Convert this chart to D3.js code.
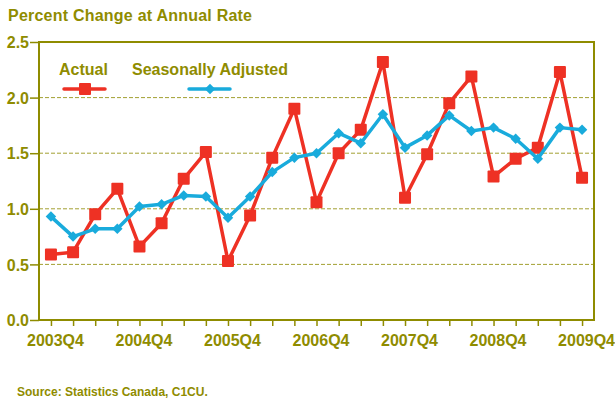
<!DOCTYPE html>
<html>
<head>
<meta charset="utf-8">
<style>
  body { margin: 0; background: #fff; }
  svg { display: block; font-family: "Liberation Sans", Arial, sans-serif; font-weight: bold; }
</style>
</head>
<body>
<svg width="615" height="400"></svg>
<script src="https://cdnjs.cloudflare.com/ajax/libs/d3/7.8.5/d3.min.js"></script>
<script>
// quarters shown on the x axis
var quarters = ["2003Q4","2004Q1","2004Q2","2004Q3","2004Q4","2005Q1","2005Q2","2005Q3","2005Q4",
                "2006Q1","2006Q2","2006Q3","2006Q4","2007Q1","2007Q2","2007Q3","2007Q4",
                "2008Q1","2008Q2","2008Q3","2008Q4","2009Q1","2009Q2","2009Q3","2009Q4"];
var actual = [0.59, 0.61, 0.95, 1.18, 0.66, 0.87, 1.27, 1.51, 0.53, 0.94, 1.46, 1.90, 1.06,
              1.50, 1.71, 2.32, 1.10, 1.49, 1.95, 2.19, 1.29, 1.45, 1.55, 2.23, 1.28];
var seasAdj = [0.93, 0.75, 0.82, 0.82, 1.02, 1.04, 1.12, 1.11, 0.92, 1.11, 1.33, 1.46, 1.50,
               1.68, 1.59, 1.85, 1.55, 1.66, 1.84, 1.70, 1.73, 1.63, 1.45, 1.73, 1.71];
var yTicks = [0, 0.5, 1.0, 1.5, 2.0, 2.5];
var xLabels = ["2003Q4","2004Q4","2005Q4","2006Q4","2007Q4","2008Q4","2009Q4"];

var olive = "#8f8c00",
    red = "#ee3124",
    blue = "#19abdc";

var svg = d3.select("svg");
var pLeft = 39, pRight = 594, pTop = 42, pBottom = 320;

var x = d3.scalePoint().domain(quarters).range([pLeft, pRight]).padding(0.54);
var y = d3.scaleLinear().domain([0, 2.5]).range([pBottom, pTop]);

// title
svg.append("text")
    .attr("x", 8).attr("y", 21)
    .attr("fill", olive)
    .style("font-size", "16px")
    .attr("textLength", 244)
    .text("Percent Change at Annual Rate");

// grid
svg.append("g").selectAll("line")
    .data(yTicks.filter(function(d) { return d > 0 && d < 2.5; }))
    .enter().append("line")
    .attr("x1", pLeft).attr("x2", pRight)
    .attr("y1", function(d) { return y(d); })
    .attr("y2", function(d) { return y(d); })
    .attr("stroke", "#a3a032")
    .attr("stroke-width", 1)
    .attr("stroke-dasharray", "4,2");

// frame
svg.append("rect")
    .attr("x", pLeft).attr("y", pTop)
    .attr("width", pRight - pLeft).attr("height", pBottom - pTop)
    .attr("fill", "none")
    .attr("stroke", olive)
    .attr("stroke-width", 2);

// y axis
var yAxis = svg.append("g")
    .attr("transform", "translate(" + pLeft + ",0)")
    .call(d3.axisLeft(y).tickValues(yTicks).tickSize(9).tickFormat(d3.format(".1f")));
yAxis.select(".domain").remove();
yAxis.selectAll("line").attr("stroke", olive).attr("stroke-width", 1.5);
yAxis.selectAll("text")
    .attr("fill", olive)
    .attr("x", -10)
    .attr("dy", "0.36em")
    .style("font-size", "16px")
    .style("font-family", "'Liberation Sans', Arial, sans-serif")
    .style("font-weight", "bold");

// x axis
var xAxis = svg.append("g")
    .attr("transform", "translate(0," + pBottom + ")")
    .call(d3.axisBottom(x).tickSize(6).tickFormat(function(d) { return xLabels.indexOf(d) >= 0 ? d : ""; }));
xAxis.select(".domain").remove();
xAxis.selectAll("line").attr("stroke", olive).attr("stroke-width", 1.5);
xAxis.selectAll("text")
    .attr("fill", olive)
    .attr("y", 15)
    .attr("dx", 4)
    .style("font-size", "16px")
    .style("font-family", "'Liberation Sans', Arial, sans-serif")
    .style("font-weight", "bold");

// lines
var line = d3.line()
    .x(function(d, i) { return x(quarters[i]); })
    .y(function(d) { return y(d); });

svg.append("path")
    .datum(actual)
    .attr("d", line)
    .attr("fill", "none")
    .attr("stroke", red)
    .attr("stroke-width", 3.5)
    .attr("stroke-linejoin", "round");

svg.append("g").selectAll("rect")
    .data(actual)
    .enter().append("rect")
    .attr("x", function(d, i) { return x(quarters[i]) - 6; })
    .attr("y", function(d) { return y(d) - 6; })
    .attr("width", 12).attr("height", 12)
    .attr("rx", 1)
    .attr("fill", red);

svg.append("path")
    .datum(seasAdj)
    .attr("d", line)
    .attr("fill", "none")
    .attr("stroke", blue)
    .attr("stroke-width", 3.5)
    .attr("stroke-linejoin", "round");

var diamond = d3.symbol().type(d3.symbolDiamond2).size(70);
svg.append("g").selectAll("path")
    .data(seasAdj)
    .enter().append("path")
    .attr("d", diamond)
    .attr("transform", function(d, i) { return "translate(" + x(quarters[i]) + "," + y(d) + ")"; })
    .attr("fill", blue);

// legend
svg.append("text").attr("x", 59).attr("y", 75)
    .attr("fill", olive).style("font-size", "16px").text("Actual");
svg.append("text").attr("x", 132).attr("y", 75)
    .attr("fill", olive).style("font-size", "16px").text("Seasonally Adjusted");

svg.append("line").attr("x1", 64).attr("x2", 105).attr("y1", 89).attr("y2", 89)
    .attr("stroke", red).attr("stroke-width", 3.5).attr("stroke-linecap", "round");
svg.append("rect").attr("x", 79).attr("y", 83).attr("width", 12).attr("height", 12)
    .attr("rx", 1).attr("fill", red);
svg.append("line").attr("x1", 189).attr("x2", 230).attr("y1", 89).attr("y2", 89)
    .attr("stroke", blue).attr("stroke-width", 3.5).attr("stroke-linecap", "round");
svg.append("path").attr("d", diamond).attr("transform", "translate(210,89)").attr("fill", blue);

// source
svg.append("text")
    .attr("x", 17).attr("y", 396)
    .attr("fill", olive)
    .style("font-size", "12px")
    .text("Source: Statistics Canada, C1CU.");
</script>
</body>
</html>
